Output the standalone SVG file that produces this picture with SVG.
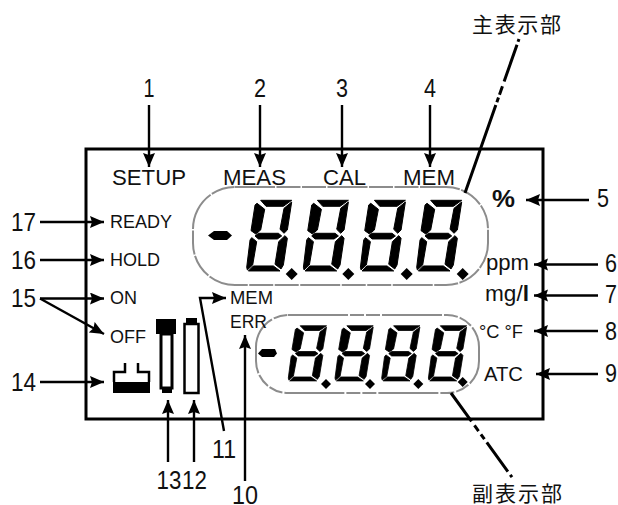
<svg xmlns="http://www.w3.org/2000/svg" width="618" height="505" viewBox="0 0 618 505">
<style>
.lb{font-family:"Liberation Sans",Arial,sans-serif;font-size:18px;fill:#111}
.lg{font-family:"Liberation Sans",Arial,sans-serif;font-size:21.5px;fill:#111}
.n{font-family:"Liberation Sans",Arial,sans-serif;font-size:26px;fill:#111}
.cj{font-family:"Noto Sans CJK JP",sans-serif;font-size:21px;fill:#111}
.ar{fill:none;stroke:#000;stroke-width:2.4;marker-end:url(#a)}
.dl{fill:none;stroke:#000;stroke-width:3}
.bz{fill:none;stroke:#8c8c8c;stroke-width:2}
</style>
<defs>
<marker id="a" markerUnits="userSpaceOnUse" markerWidth="15" markerHeight="13" refX="14" refY="6" orient="auto"><path d="M0,0L14,6L0,12L2,6Z" fill="#000"/></marker>
<g id="dg" fill="#000" stroke="#000" stroke-width="3">
<polygon points="42,3 135,3 110,21 58,21"/>
<polygon points="31,12 54,30 42,92 27,104 13,94 25,17"/>
<polygon points="135,8 122,92 112,102 100,90 112,27"/>
<polygon points="35,102 95,102 105,110 92,119 35,119 25,110"/>
<polygon points="15,115 30,127 18,197 2,212 0,204 10,122"/>
<polygon points="115,109 122,117 110,197 103,209 85,195 96,127"/>
<polygon points="20,200 80,200 100,215 5,215"/>
</g>
</defs>
<rect width="618" height="505" fill="#fff"/>
<g id="frame"><rect x="86" y="149" width="457" height="270" fill="none" stroke="#000" stroke-width="3"/></g>
<g id="main-display">
<rect class="bz" x="193" y="187" width="295" height="98" rx="42" stroke-dasharray="40 1.5 24 1.5 24 1.5"/>
<polygon points="208,235.500 214,231 227,231 232,235.500 227,240 214,240"/>
<use href="#dg" transform="translate(246.700 199.300) scale(.3333)"/>
<use href="#dg" transform="translate(303.400 199.300) scale(.3333)"/>
<use href="#dg" transform="translate(360.400 199.300) scale(.3333)"/>
<use href="#dg" transform="translate(416.700 199.300) scale(.3333)"/>
<polygon points="291.700,268 297.700,274 291.700,280 285.700,274"/>
<polygon points="348.300,268 354.300,274 348.300,280 342.300,274"/>
<polygon points="406.700,268 412.700,274 406.700,280 400.700,274"/>
<polygon points="462.700,268 468.700,274 462.700,280 456.700,274"/>
</g>
<g id="sub-display">
<rect class="bz" x="256" y="315" width="223" height="78" rx="32" stroke-dasharray="60 2 14 2 14 2"/>
<polygon points="258,353.500 262,349 275,349 277,353.500 274,357 262,357"/>
<use href="#dg" transform="translate(288.300 325) scale(.283 .26)"/>
<use href="#dg" transform="translate(335 325) scale(.283 .26)"/>
<use href="#dg" transform="translate(381.700 325) scale(.283 .26)"/>
<use href="#dg" transform="translate(428.400 325) scale(.283 .26)"/>
<polygon points="326,379 331,384 326,389 321,384"/>
<polygon points="370,379 375,384 370,389 365,384"/>
<polygon points="418.300,379 423.300,384 418.300,389 413.300,384"/>
<polygon points="462.700,377 467.700,382 462.700,387 457.700,382"/>
</g>
<g id="connectors">
<line class="ar" x1="149" y1="105" x2="149" y2="167"/>
<line class="ar" x1="260" y1="105" x2="260" y2="167"/>
<line class="ar" x1="342" y1="105" x2="342" y2="167"/>
<line class="ar" x1="430" y1="105" x2="430" y2="167"/>
<line class="ar" x1="589" y1="200" x2="526" y2="200"/>
<line class="ar" x1="598" y1="264.500" x2="534" y2="264.500"/>
<line class="ar" x1="598" y1="295.500" x2="534" y2="295.500"/>
<line class="ar" x1="598" y1="331" x2="534" y2="331"/>
<line class="ar" x1="598" y1="374" x2="536" y2="374"/>
<line class="ar" x1="40" y1="222" x2="104" y2="222"/>
<line class="ar" x1="40" y1="260" x2="104" y2="260"/>
<line class="ar" x1="40" y1="298.500" x2="104" y2="298.500"/>
<line class="ar" x1="40" y1="298.500" x2="104" y2="334"/>
<line class="ar" x1="40" y1="382" x2="104" y2="382"/>
<line class="ar" x1="168" y1="462" x2="168" y2="400"/>
<line class="ar" x1="194" y1="462" x2="194" y2="400"/>
<path class="ar" d="M224,431L200,298H226"/>
<line class="ar" x1="245" y1="481" x2="245" y2="335"/>
<path class="dl" d="M519,39L465,193" stroke-dasharray="3 3 39 5 9 3 5 3 200"/>
<path class="dl" d="M451,393L514,480" stroke-dasharray="35 5 7 4 6 4 36 4 3"/>
</g>
<g id="label-setup"><text class="lg" x="112" y="185" textLength="74" lengthAdjust="spacingAndGlyphs">SETUP</text></g>
<g id="label-meas"><text class="lg" x="223" y="185" textLength="63" lengthAdjust="spacingAndGlyphs">MEAS</text></g>
<g id="label-cal"><text class="lg" x="323" y="185" textLength="43" lengthAdjust="spacingAndGlyphs">CAL</text></g>
<g id="label-mem"><text class="lg" x="403" y="185" textLength="52" lengthAdjust="spacingAndGlyphs">MEM</text></g>
<g id="label-ready"><text class="lb" x="110" y="228" textLength="62" lengthAdjust="spacingAndGlyphs">READY</text></g>
<g id="label-hold"><text class="lb" x="110" y="266" textLength="50" lengthAdjust="spacingAndGlyphs">HOLD</text></g>
<g id="label-on"><text class="lb" x="110" y="304" textLength="27" lengthAdjust="spacingAndGlyphs">ON</text></g>
<g id="label-off"><text class="lb" x="110" y="343" textLength="36" lengthAdjust="spacingAndGlyphs">OFF</text></g>
<g id="label-mem2"><text class="lb" x="230" y="304" textLength="43" lengthAdjust="spacingAndGlyphs">MEM</text></g>
<g id="label-err"><text class="lb" x="230" y="328" textLength="37" lengthAdjust="spacingAndGlyphs">ERR</text></g>
<g id="label-percent"><text class="lb" x="492" y="207" style="font-size:24px;font-weight:bold" textLength="23" lengthAdjust="spacingAndGlyphs">%</text></g>
<g id="label-ppm"><text class="lb" x="486" y="270" style="font-size:22px" textLength="43" lengthAdjust="spacingAndGlyphs">ppm</text></g>
<g id="label-mgl"><text class="lb" x="485" y="301" style="font-size:22px" textLength="44" lengthAdjust="spacingAndGlyphs">mg/<tspan font-weight="bold">l</tspan></text></g>
<g id="label-temp"><text class="lb" x="479" y="338" textLength="44" lengthAdjust="spacingAndGlyphs">°C °F</text></g>
<g id="label-atc"><text class="lb" x="484" y="381" style="font-size:19.5px" textLength="39" lengthAdjust="spacingAndGlyphs">ATC</text></g>
<g id="icon-electrode">
<rect x="113" y="382" width="37" height="11" fill="#000"/>
<path d="M114,382V372H125V363M138,363V372H149V382" fill="none" stroke="#000" stroke-width="2.5"/>
</g>
<g id="icon-battery-13">
<rect x="156" y="319" width="20" height="15" fill="#000"/>
<rect x="161" y="334" width="11" height="54" fill="none" stroke="#000" stroke-width="3"/>
<rect x="162" y="388" width="10" height="5" fill="#000"/>
</g>
<g id="icon-battery-12">
<rect x="186" y="318" width="11" height="7" fill="#000"/>
<rect x="184.500" y="324" width="14" height="69" fill="none" stroke="#000" stroke-width="2.500"/>
</g>
<g id="n1"><text class="n" x="143.500" y="97" textLength="11" lengthAdjust="spacingAndGlyphs">1</text></g>
<g id="n2"><text class="n" x="254" y="97" textLength="12" lengthAdjust="spacingAndGlyphs">2</text></g>
<g id="n3"><text class="n" x="336" y="97" textLength="12" lengthAdjust="spacingAndGlyphs">3</text></g>
<g id="n4"><text class="n" x="424" y="97" textLength="12" lengthAdjust="spacingAndGlyphs">4</text></g>
<g id="n5"><text class="n" x="597" y="207" textLength="12" lengthAdjust="spacingAndGlyphs">5</text></g>
<g id="n6"><text class="n" x="605" y="272" textLength="12" lengthAdjust="spacingAndGlyphs">6</text></g>
<g id="n7"><text class="n" x="605" y="303" textLength="12" lengthAdjust="spacingAndGlyphs">7</text></g>
<g id="n8"><text class="n" x="605" y="340" textLength="12" lengthAdjust="spacingAndGlyphs">8</text></g>
<g id="n9"><text class="n" x="605" y="382" textLength="12" lengthAdjust="spacingAndGlyphs">9</text></g>
<g id="n10"><text class="n" x="232" y="504" textLength="26" lengthAdjust="spacingAndGlyphs">10</text></g>
<g id="n11"><text class="n" x="212" y="458" textLength="24" lengthAdjust="spacingAndGlyphs">11</text></g>
<g id="n12"><text class="n" transform="translate(182 489) scale(.86 1)">12</text></g>
<g id="n13"><text class="n" transform="translate(156.500 489) scale(.86 1)">13</text></g>
<g id="n14"><text class="n" x="11" y="391" textLength="25" lengthAdjust="spacingAndGlyphs">14</text></g>
<g id="n15"><text class="n" x="11" y="307" textLength="25" lengthAdjust="spacingAndGlyphs">15</text></g>
<g id="n16"><text class="n" x="11" y="269" textLength="25" lengthAdjust="spacingAndGlyphs">16</text></g>
<g id="n17"><text class="n" x="11" y="231" textLength="25" lengthAdjust="spacingAndGlyphs">17</text></g>
<g id="label-main"><text class="cj" x="472" y="32" textLength="89">主表示部</text></g>
<g id="label-sub"><text class="cj" x="472" y="501" textLength="90">副表示部</text></g>
</svg>
